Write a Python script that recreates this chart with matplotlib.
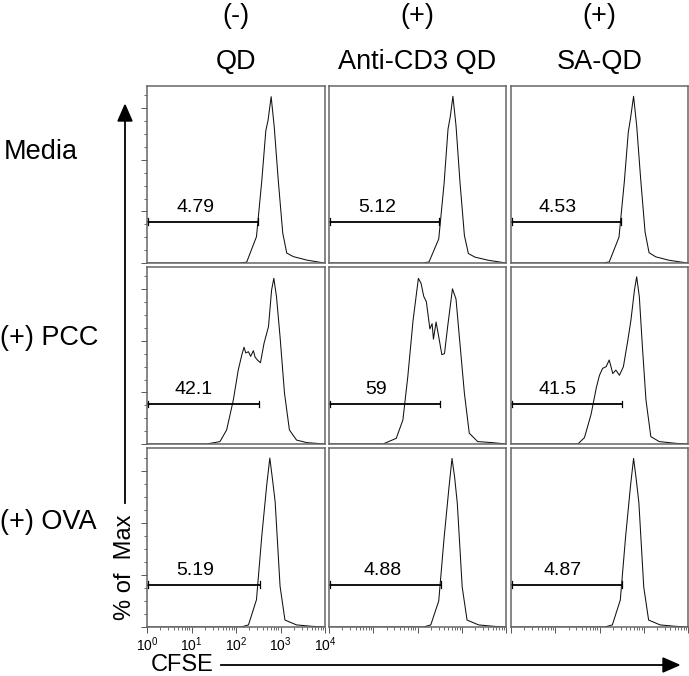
import numpy as np
import matplotlib
matplotlib.use("Agg")
import matplotlib.pyplot as plt
from matplotlib.patches import Polygon
from matplotlib.ticker import LogLocator, MultipleLocator, NullFormatter, NullLocator

plt.rcParams['font.family'] = ['Liberation Sans', 'DejaVu Sans']
plt.rcParams['mathtext.fontset'] = 'custom'
plt.rcParams['mathtext.rm'] = 'Liberation Sans'

# column / row headers
col_signs = ["(-)", "(+)", "(+)"]
col_names = ["QD", "Anti-CD3 QD", "SA-QD"]
row_names = ["Media", "(+) PCC", "(+) OVA"]

# CFSE histograms: log10(CFSE) positions and % of max
media_qd_x = [0.0, 2.10, 2.24, 2.46, 2.58, 2.67, 2.72, 2.79, 2.86, 2.95, 3.05, 3.14, 3.29, 3.59, 3.89, 4.0]
media_qd_y = [0.0, 0.0, 0.5, 15.3, 48.0, 77.0, 83.0, 96.8, 79.0, 48.0, 17.5, 5.8, 3.7, 1.7, 0.4, 0.0]
media_cd3_x = [0.0, 2.12, 2.26, 2.48, 2.60, 2.69, 2.74, 2.80, 2.87, 2.96, 3.06, 3.15, 3.30, 3.60, 3.90, 4.0]
media_cd3_y = [0.0, 0.0, 0.6, 14.0, 46.0, 78.0, 85.0, 97.0, 80.0, 47.0, 16.0, 5.5, 3.4, 1.6, 0.4, 0.0]
media_sa_x = [0.0, 2.08, 2.22, 2.44, 2.56, 2.65, 2.70, 2.77, 2.84, 2.93, 3.03, 3.12, 3.27, 3.57, 3.88, 4.0]
media_sa_y = [0.0, 0.0, 0.6, 15.0, 47.0, 76.0, 84.0, 97.0, 80.0, 49.0, 18.0, 6.0, 3.6, 1.6, 0.4, 0.0]

pcc_qd_x = [0.0, 1.34, 1.64, 1.79, 1.94, 2.05, 2.13, 2.18, 2.22, 2.28, 2.33, 2.39, 2.43, 2.48, 2.55,
            2.63, 2.73, 2.80, 2.85, 2.91, 2.99, 3.09, 3.20, 3.36, 3.59, 4.0]
pcc_qd_y = [0.0, 0.0, 1.4, 8.2, 25.6, 43.0, 51.8, 56.3, 53.0, 53.7, 51.0, 54.3, 50.5, 48.9, 47.3,
            58.6, 68.3, 89.6, 96.4, 85.7, 62.4, 29.5, 8.2, 2.3, 0.8, 0.0]
pcc_cd3_x = [0.0, 1.22, 1.52, 1.67, 1.78, 1.90, 2.02, 2.08, 2.14, 2.20, 2.28, 2.33, 2.36, 2.42, 2.48,
             2.55, 2.61, 2.68, 2.79, 2.87, 2.94, 3.06, 3.17, 3.36, 3.69, 4.0]
pcc_cd3_y = [0.0, 0.0, 3.3, 14.0, 39.0, 72.0, 96.4, 93.5, 86.0, 82.8, 67.0, 70.0, 61.0, 71.0, 62.4,
             52.0, 52.6, 68.0, 90.3, 84.4, 64.0, 29.5, 6.3, 1.4, 0.8, 0.0]
pcc_sa_x = [0.0, 1.51, 1.66, 1.81, 1.93, 2.00, 2.07, 2.15, 2.22, 2.30, 2.37, 2.45, 2.54, 2.64, 2.71,
            2.79, 2.84, 2.90, 2.97, 3.05, 3.16, 3.35, 3.72, 4.0]
pcc_sa_y = [0.0, 0.0, 3.7, 17.3, 33.0, 40.0, 44.0, 45.0, 48.9, 41.0, 43.0, 40.0, 45.0, 60.3, 72.0,
            89.6, 97.3, 85.7, 56.5, 25.6, 4.3, 1.4, 0.4, 0.0]

ova_qd_x = [0.0, 2.12, 2.28, 2.46, 2.58, 2.69, 2.76, 2.82, 2.88, 2.99, 3.10, 3.36, 3.70, 4.0]
ova_qd_y = [0.0, 0.0, 1.2, 15.7, 52.5, 81.6, 97.2, 85.0, 72.0, 23.5, 4.0, 1.2, 0.4, 0.0]
ova_cd3_x = [0.0, 2.14, 2.30, 2.48, 2.60, 2.71, 2.78, 2.84, 2.90, 3.01, 3.12, 3.38, 3.72, 4.0]
ova_cd3_y = [0.0, 0.0, 1.2, 15.0, 51.0, 80.0, 97.0, 86.0, 71.0, 23.0, 4.0, 1.2, 0.4, 0.0]
ova_sa_x = [0.0, 2.12, 2.29, 2.47, 2.59, 2.70, 2.77, 2.83, 2.89, 3.00, 3.11, 3.37, 3.71, 4.0]
ova_sa_y = [0.0, 0.0, 1.2, 15.5, 52.0, 81.0, 97.0, 85.0, 71.5, 23.0, 4.0, 1.2, 0.4, 0.0]

hist_x = [[media_qd_x, media_cd3_x, media_sa_x],
          [pcc_qd_x, pcc_cd3_x, pcc_sa_x],
          [ova_qd_x, ova_cd3_x, ova_sa_x]]
hist_y = [[media_qd_y, media_cd3_y, media_sa_y],
          [pcc_qd_y, pcc_cd3_y, pcc_sa_y],
          [ova_qd_y, ova_cd3_y, ova_sa_y]]

# gate (divided cells): upper bound in log10(CFSE), bar height, percentage
gate_end = [[2.49, 2.49, 2.49], [2.52, 2.51, 2.50], [2.54, 2.52, 2.51]]
gate_level = [[24.0, 24.0, 24.0], [23.3, 23.3, 23.3], [24.4, 24.4, 24.4]]
gate_text = [["4.79", "5.12", "4.53"], ["42.1", "59", "41.5"], ["5.19", "4.88", "4.87"]]
label_pos = [[1.08, 1.10, 1.06], [1.04, 1.07, 1.06], [1.08, 1.21, 1.17]]

tick_labels = [r"$\mathregular{10^{0}}$", r"$\mathregular{10^{1}}$", r"$\mathregular{10^{2}}$",
               r"$\mathregular{10^{3}}$", r"$\mathregular{10^{4}}$"]

W, H = 689, 676
fig = plt.figure(figsize=(W / 100, H / 100), dpi=100)

col_left = [147, 329, 511]
col_right = [325, 506, 688]
row_top = [86, 267, 448]
row_bottom = [263, 444, 627]
spine_col = "#666666"

for r in range(3):
    for c in range(3):
        l, rr = col_left[c], col_right[c]
        t, b = row_top[r], row_bottom[r]
        ax = fig.add_axes([l / W, 1 - b / H, (rr - l) / W, (b - t) / H])
        ax.set_xscale("log")
        ax.set_xlim(1, 1e4)
        ax.set_ylim(0, 103)
        xs = 10 ** np.array(hist_x[r][c])
        ax.plot(xs, hist_y[r][c], color="#111111", lw=0.75)
        # gate bar with end caps
        ge = 10 ** gate_end[r][c]
        gl = gate_level[r][c]
        ax.plot([1, ge], [gl, gl], color="black", lw=1.3, solid_capstyle="butt")
        ax.plot([ge, ge], [gl - 2, gl + 2], color="black", lw=0.9)
        ax.plot([1.03, 1.03], [gl - 2, gl + 2], color="black", lw=0.9)
        ax.text(10 ** label_pos[r][c], gl + 3.5, gate_text[r][c], ha="center", va="bottom",
                fontsize=14)
        for s in ax.spines.values():
            s.set_color(spine_col)
            s.set_linewidth(1.1)
        # y ticks only on first column
        if c == 0:
            ax.yaxis.set_major_locator(MultipleLocator(30))
            ax.yaxis.set_minor_locator(MultipleLocator(7.5))
            ax.tick_params(axis="y", which="major", length=4, width=0.7, color="#555555")
            ax.tick_params(axis="y", which="minor", length=2, width=0.6, color="#555555")
            ax.set_yticklabels([])
        else:
            ax.yaxis.set_major_locator(NullLocator())
            ax.yaxis.set_minor_locator(NullLocator())
        # x ticks only on bottom row
        if r == 2:
            ax.xaxis.set_major_locator(LogLocator(base=10, numticks=10))
            ax.xaxis.set_minor_locator(LogLocator(base=10, subs=np.arange(2, 10), numticks=10))
            ax.xaxis.set_minor_formatter(NullFormatter())
            ax.tick_params(axis="x", which="major", length=4, width=0.7, color="#555555", pad=2)
            ax.tick_params(axis="x", which="minor", length=2, width=0.6, color="#555555")
            if c == 0:
                ax.set_xticks([1, 10, 100, 1000, 10000])
                ax.set_xticklabels(tick_labels, fontsize=10)
            else:
                ax.set_xticklabels([])
        else:
            ax.xaxis.set_major_locator(NullLocator())
            ax.xaxis.set_minor_locator(NullLocator())

# overlay in pixel coordinates for headers, labels and arrows
ov = fig.add_axes([0, 0, 1, 1], zorder=-1)
ov.set_xlim(0, W)
ov.set_ylim(H, 0)
ov.axis("off")

col_center = [(l + r) / 2 for l, r in zip(col_left, col_right)]
for c in range(3):
    ov.text(col_center[c], 16, col_signs[c], ha="center", va="center", fontsize=19.5)
    ov.text(col_center[c], 62, col_names[c], ha="center", va="center", fontsize=19.5)

row_y = [152, 338, 522]
row_x = [4, 0, 0]
for r in range(3):
    ov.text(row_x[r], row_y[r], row_names[r], ha="left", va="center", fontsize=19.5)

# y arrow
ov.plot([125, 125], [118, 503], color="black", lw=1.3)
ov.add_patch(Polygon([[118, 121], [132, 121], [125, 105]], closed=True, color="black"))
ov.text(125, 567, "% of  Max", rotation=90, ha="center", va="center", fontsize=17)

# x arrow
ov.text(151, 665, "CFSE", ha="left", va="center", fontsize=17)
ov.plot([221, 664], [665, 665], color="black", lw=1.3)
ov.add_patch(Polygon([[663, 658], [663, 672], [679, 665]], closed=True, color="black"))

fig.savefig("out.png", dpi=100)
